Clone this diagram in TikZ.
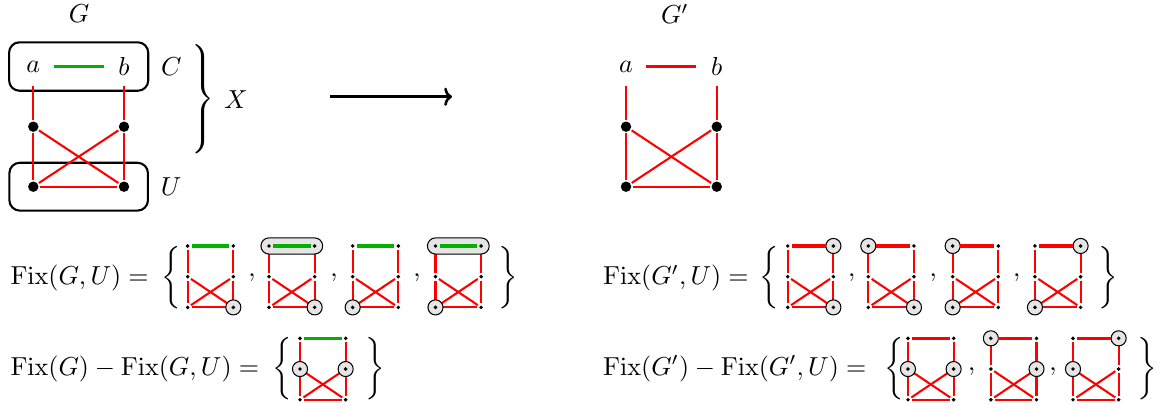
\documentclass[tikz,border=0pt]{standalone}
\usepackage{tikz}
\usetikzlibrary{positioning, fit, backgrounds, arrows.meta}

\tikzset{
  vtl/.style={}, vtr/.style={}, vml/.style={}, vmr/.style={}, vbl/.style={}, vbr/.style={},
  pillbox/.style={},
  haspill/.style={pillbox/.style={draw, fill=gray!20}},
  mini/.pic={
    \node[pill, pillbox, fit={(0,0) (0.617,0)}] (-pill) {};
    \foreach \v/\x/\y in {tl/0/0, tr/0.617/0, ml/0/-0.415, mr/0.617/-0.415, bl/0/-0.83, br/0.617/-0.83}
      \node[minidot, v\v] (-\v) at (\x,\y) {};
    \draw[#1] (-tl) -- (-tr);
    \begin{scope}[on background layer]
      \foreach \s/\t in {tl/ml, tr/mr, ml/bl, mr/br, ml/br, mr/bl, bl/br}
        \draw[edge] (-\s) -- (-\t);
    \end{scope}
  },
}

\begin{document}
\begin{tikzpicture}[
    vertex/.style={circle, fill, inner sep=0pt, minimum size=4pt, outer sep=0.6pt},
    minidot/.style={circle, fill, inner sep=0pt, minimum size=1.5pt, outer sep=0.8pt},
    marked/.style={circle, draw, fill=gray!20, minimum size=5.8pt, inner sep=0pt, outer sep=0pt,
                   path picture={\fill[black] (path picture bounding box.center) circle (0.75pt);}},
    lbl/.style={minimum size=0.5cm, inner sep=0pt},
    title/.style={inner sep=0pt},
    edge/.style={red, line width=0.8pt},
    fixed/.style={green!70!black, line width=1.4pt},
    free/.style={red, line width=1.4pt},
    setbox/.style={draw, line width=0.8pt, rounded corners=4pt},
    pill/.style={inner sep=3.1pt, rounded corners=3.1pt},
    maparrow/.style={-{To[length=3pt, width=7pt]}, line width=1pt},
    delim/.style={anchor=west, inner sep=0pt},
  ]
  \useasboundingbox (0,0) rectangle (15.649,-5.527);

  % ---------------- Graph G ----------------
  \node[title] (Glabel) at (1.07,-0.19) {$G$};
  \node[lbl]    (a)  at (0.45,-0.899)  {$a$};
  \node[lbl]    (b)  at (1.676,-0.899) {$b$};
  \node[vertex] (ml) at (0.45,-1.712)  {};
  \node[vertex] (mr) at (1.676,-1.712) {};
  \node[vertex] (bl) at (0.45,-2.523)  {};
  \node[vertex] (br) at (1.676,-2.523) {};

  \node[setbox, fit=(a)(b), inner sep=2pt] (C) {};
  \node[setbox, fit=(bl)(br), inner sep=6.6pt] (U) {};
  \node[right=1pt of C] (Clabel) {$C$};
  \node[right=1pt of U] (Ulabel) {$U$};
  \node[delim] (Xbrace) at (2.535,-1.34) {$\left.\vrule height 23.5pt depth 18.5pt width 0pt\right\}$};
  \node[right=0pt of Xbrace] (Xlabel) {$X$};

  \draw[fixed, shorten <=0.5pt, shorten >=0.5pt] (a) -- (b);
  \foreach \s/\t in {a/ml, b/mr, ml/bl, mr/br, ml/br, mr/bl, bl/br} \draw[edge] (\s) -- (\t);

  % ---------------- Arrow ----------------
  \coordinate (mapfrom) at (4.459,-1.307);
  \coordinate (mapto)   at (6.108,-1.307);
  \draw[maparrow] (mapfrom) -- (mapto);

  % ---------------- Graph G' ----------------
  \node[title] (G2label) at (9.12,-0.19) {$G'$};
  \node[lbl]    (a2)  at (8.46,-0.899)  {$a$};
  \node[lbl]    (b2)  at (9.686,-0.899) {$b$};
  \node[vertex] (ml2) at (8.46,-1.712)  {};
  \node[vertex] (mr2) at (9.686,-1.712) {};
  \node[vertex] (bl2) at (8.46,-2.523)  {};
  \node[vertex] (br2) at (9.686,-2.523) {};

  \draw[free, shorten <=0.5pt, shorten >=0.5pt] (a2) -- (b2);
  \foreach \s/\t in {a2/ml2, b2/mr2, ml2/bl2, mr2/br2, ml2/br2, mr2/bl2, bl2/br2} \draw[edge] (\s) -- (\t);

  % ---------------- Fix(G,U) ----------------
  \node[anchor=base west, inner sep=0pt] (fixGU) at (0.135,-3.851) {$\mathrm{Fix}(G,U) =$};
  \node[delim] (fixGUopen) at (2.17,-3.753) {$\biggl\{$};
  \pic[vbr/.style=marked] (f1) at (2.536,-3.324) {mini=fixed};
  \pic[haspill, vbr/.style=marked] (f2) at (3.635,-3.324) {mini=fixed};
  \pic[vbl/.style=marked] (f3) at (4.766,-3.324) {mini=fixed};
  \pic[haspill, vbl/.style=marked] (f4) at (5.885,-3.324) {mini=fixed};
  \node (fc1) at (3.405,-3.75) {$,$};
  \node (fc2) at (4.514,-3.75) {$,$};
  \node (fc3) at (5.635,-3.75) {$,$};
  \node[delim] (fixGUclose) at (6.73,-3.753) {$\biggr\}$};

  % ---------------- Fix(G',U) ----------------
  \node[anchor=base west, inner sep=0pt] (fixG2U) at (8.145,-3.851) {$\mathrm{Fix}(G',U) =$};
  \node[delim] (fixG2Uopen) at (10.25,-3.753) {$\biggl\{$};
  \pic[vtr/.style=marked, vbr/.style=marked] (h1) at (10.645,-3.324) {mini=free};
  \pic[vtl/.style=marked, vbr/.style=marked] (h2) at (11.734,-3.324) {mini=free};
  \pic[vtl/.style=marked, vbl/.style=marked] (h3) at (12.874,-3.324) {mini=free};
  \pic[vtr/.style=marked, vbl/.style=marked] (h4) at (13.986,-3.324) {mini=free};
  \node (hc1) at (11.509,-3.75) {$,$};
  \node (hc2) at (12.613,-3.75) {$,$};
  \node (hc3) at (13.739,-3.75) {$,$};
  \node[delim] (fixG2Uclose) at (14.84,-3.753) {$\biggr\}$};

  % ---------------- Fix(G) - Fix(G,U) ----------------
  \node[anchor=base west, inner sep=0pt] (diffG) at (0.135,-5.068) {$\mathrm{Fix}(G) - \mathrm{Fix}(G,U) =$};
  \node[delim] (diffGopen) at (3.67,-4.976) {$\biggl\{$};
  \pic[vml/.style=marked, vmr/.style=marked] (d1) at (4.054,-4.572) {mini=fixed};
  \node[delim] (diffGclose) at (4.932,-4.976) {$\biggr\}$};

  % ---------------- Fix(G') - Fix(G',U) ----------------
  \node[anchor=base west, inner sep=0pt] (diffG2) at (8.145,-5.068) {$\mathrm{Fix}(G') - \mathrm{Fix}(G',U) =$};
  \node[delim] (diffG2open) at (11.94,-4.976) {$\biggl\{$};
  \pic[vml/.style=marked, vmr/.style=marked] (e1) at (12.27,-4.572) {mini=free};
  \pic[vtl/.style=marked, vmr/.style=marked] (e2) at (13.39,-4.572) {mini=free};
  \pic[vml/.style=marked, vtr/.style=marked] (e3) at (14.50,-4.572) {mini=free};
  \node (ec1) at (13.13,-5.02) {$,$};
  \node (ec2) at (14.23,-5.02) {$,$};
  \node[delim] (diffG2close) at (15.365,-4.976) {$\biggr\}$};
\end{tikzpicture}
\end{document}
